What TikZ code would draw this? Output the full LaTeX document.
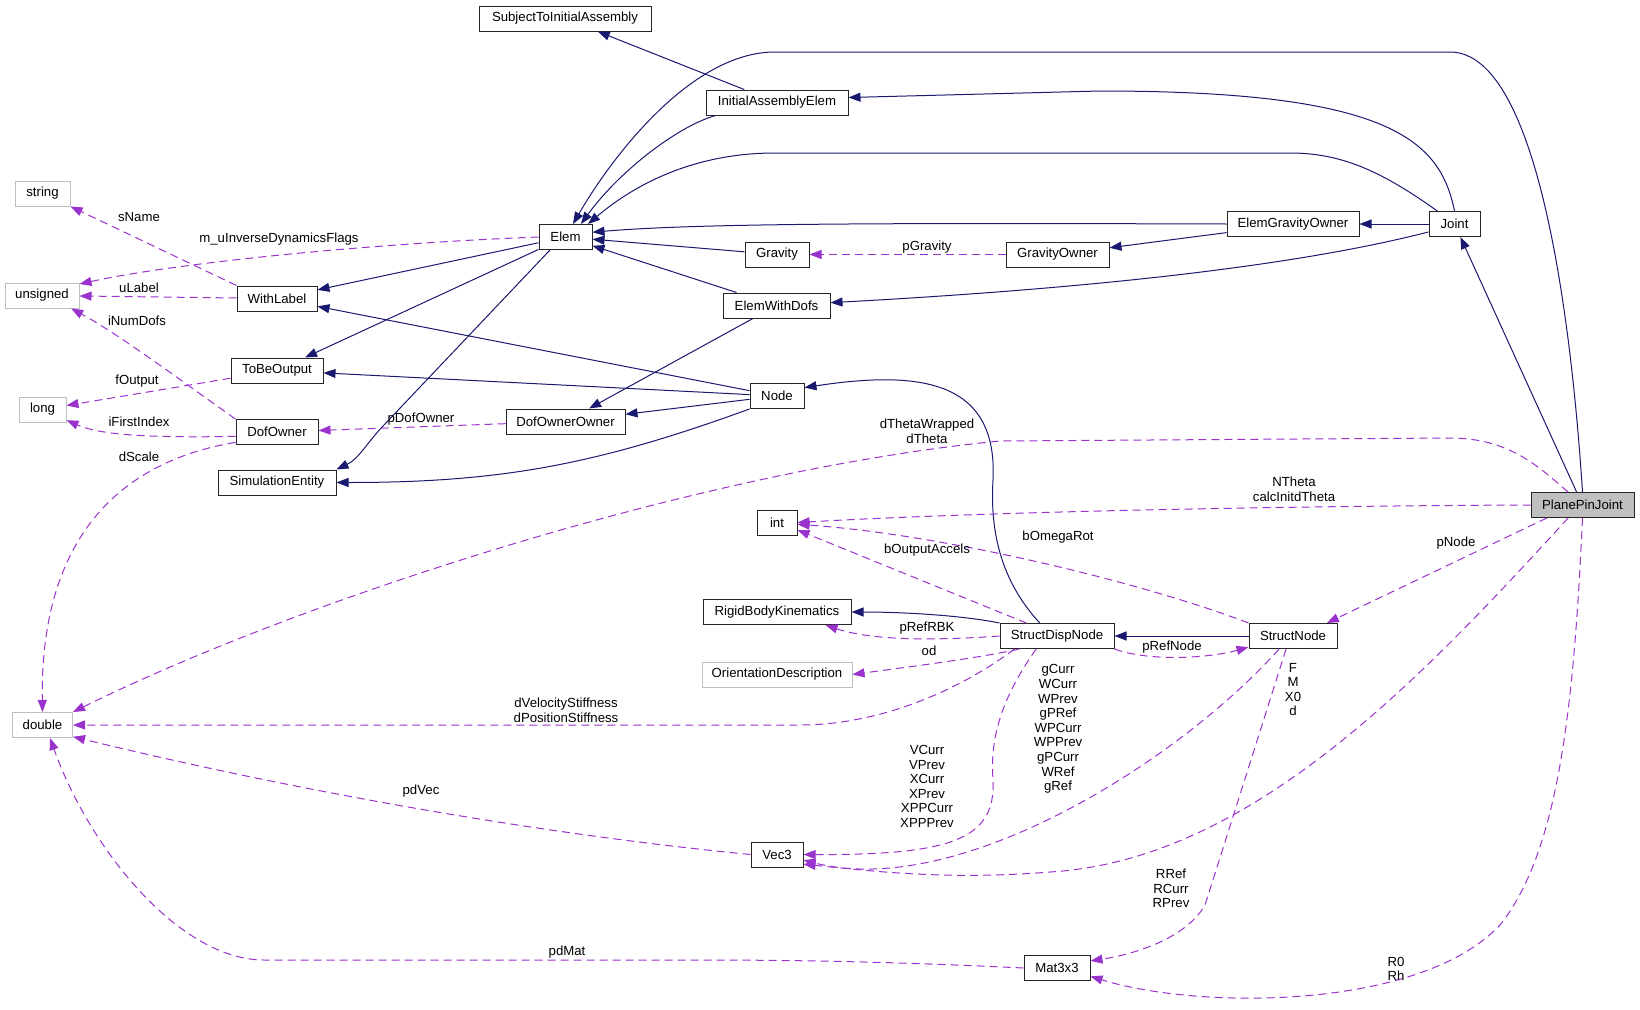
\documentclass[tikz,border=0pt]{standalone}
\usepackage{fontspec}
\setmainfont{Liberation Sans}
\usetikzlibrary{arrows.meta}
\definecolor{inhblue}{HTML}{191970}
\definecolor{useviolet}{HTML}{9A32CD}
\definecolor{extgrey}{HTML}{BFBFBF}
\newcommand{\dxfont}{\fontsize{13.2}{14.6}\selectfont}
\tikzset{
  cls/.style    = {draw=black!85, fill=white, line width=1pt, minimum height=25pt,
                   inner xsep=3pt, inner ysep=0pt, font=\dxfont},
  extcls/.style = {cls, draw=extgrey},
  curcls/.style = {cls, fill=extgrey},
  inh/.style    = {-{Triangle[length=12pt,width=9pt]}, draw=inhblue, line width=1pt},
  use/.style    = {-{Triangle[length=12pt,width=9pt]}, draw=useviolet, line width=1pt,
                   dash pattern=on 8pt off 5pt},
  lbl/.style    = {font=\dxfont, align=center, inner sep=0pt},
}

\begin{document}
\begin{tikzpicture}[x=1pt,y=-1pt]
  \fill[white] (0,0) rectangle (1640,1009);
  \useasboundingbox (0,0) rectangle (1640,1009);

  % classes
  \node[extcls,minimum width=55] (string) at (42.5,193.5) {string};
  \node[extcls,minimum width=74] (unsigned) at (42,295.5) {unsigned};
  \node[extcls,minimum width=47] (long) at (42.5,409.5) {long};
  \node[extcls,minimum width=60] (double) at (42.5,725) {double};
  \node[cls,minimum width=80] (withlabel) at (277,298.5) {WithLabel};
  \node[cls,minimum width=92] (tobeout) at (277,370.5) {ToBeOutput};
  \node[cls,minimum width=82] (dofown) at (277,432) {DofOwner};
  \node[cls,minimum width=118] (siment) at (277,482.5) {SimulationEntity};
  \node[cls,minimum width=172] (subj) at (565,18.5) {SubjectToInitialAssembly};
  \node[cls,minimum width=53] (elem) at (565.5,237) {Elem};
  \node[cls,minimum width=119] (dofownown) at (565.5,421.5) {DofOwnerOwner};
  \node[cls,minimum width=142] (iae) at (777,102.5) {InitialAssemblyElem};
  \node[cls,minimum width=64] (grav) at (777,254.5) {Gravity};
  \node[cls,minimum width=107] (ewd) at (776.5,305.5) {ElemWithDofs};
  \node[cls,minimum width=54] (nodecls) at (777,396) {Node};
  \node[cls,minimum width=40] (int) at (777,522.5) {int};
  \node[cls,minimum width=148] (rbk) at (777,612) {RigidBodyKinematics};
  \node[extcls,minimum width=150] (orient) at (777,674.5) {OrientationDescription};
  \node[cls,minimum width=52] (vec) at (777,854.5) {Vec3};
  \node[cls,minimum width=103] (gravown) at (1057.5,254.5) {GravityOwner};
  \node[cls,minimum width=114] (sdn) at (1057,636) {StructDispNode};
  \node[cls,minimum width=66] (mat) at (1057,968) {Mat3x3};
  \node[cls,minimum width=132] (egown) at (1293,224) {ElemGravityOwner};
  \node[cls,minimum width=88] (sn) at (1293,636) {StructNode};
  \node[cls,minimum width=51] (joint) at (1454.5,224) {Joint};
  \node[curcls,minimum width=103] (ppj) at (1582.5,505) {PlanePinJoint};

  % inheritance
  \draw[inh] (iae) -- (subj);
  \draw[inh] (iae.192) .. controls (680,125) and (620,170) .. (elem.40);
  \draw[inh] (ppj.north) .. controls (1572,330) and (1540,52) .. (1450,52) -- (775,52)
             .. controls (690,52) and (610,160) .. (elem.60);
  \draw[inh] (joint.north) .. controls (1440,140) and (1390,91) .. (1100,91) -- (iae.4);
  \draw[inh] (joint.143) .. controls (1380,170) and (1340,153) .. (1290,153) -- (775,153)
             .. controls (700,153) and (640,180) .. (elem.30);
  \draw[inh] (egown.west) .. controls (900,223) and (700,223) .. (elem.10);
  \draw[inh] (joint) -- (egown);
  \draw[inh] (egown) -- (gravown);
  \draw[inh] (joint.197) .. controls (1300,265) and (1100,288) .. (ewd.3);
  \draw[inh] (grav) -- (elem);
  \draw[inh] (ewd) -- (elem);
  \draw[inh] (ppj) -- (joint);
  \draw[inh] (elem) -- (withlabel);
  \draw[inh] (elem) -- (tobeout);
  \draw[inh] (elem.220) -- (384,425) to[out=226,in=26] (siment.north east);
  \draw[inh] (nodecls) -- (withlabel);
  \draw[inh] (nodecls) -- (tobeout);
  \draw[inh] (nodecls) -- (dofownown);
  \draw[inh] (ewd) -- (dofownown);
  \draw[inh] (nodecls.south west) to[out=200,in=0] (siment.east);
  \draw[inh] (sdn.143) .. controls (1000,580) and (990,530) .. (993,480)
             .. controls (998,380) and (920,370) .. (nodecls.17);
  \draw[inh] (sdn.north west) .. controls (960,615) and (900,612) .. (rbk.east);
  \draw[inh] (sn) -- (sdn);

  % usage
  \draw[use] (withlabel.north west) -- (string.south east);
  \draw[use] (elem.west) .. controls (380,243) and (180,262) .. (unsigned.17);
  \draw[use] (withlabel) -- (unsigned);
  \draw[use] (dofown.north west) .. controls (180,380) and (120,335) .. (unsigned.-24);
  \draw[use] (tobeout) -- (long);
  \draw[use] (dofown.186) .. controls (150,438) and (100,435) .. (long.-24);
  \draw[use] (dofown.194) .. controls (100,465) and (40,560) .. (double.north);
  \draw[use] (dofownown) -- (dofown);
  \draw[use] (gravown) -- (grav);
  \draw[use] (ppj.138) .. controls (1540,468) and (1510,438) .. (1450,438) -- (1000,441)
             .. controls (700,470) and (300,600) .. (double.north east);
  \draw[use] (ppj.west) .. controls (1300,506) and (1000,511) .. (int.east);
  \draw[use] (sn.north west) .. controls (1150,585) and (950,535) .. (int.-5);
  \draw[use] (sdn.157) -- (int.-20);
  \draw[use] (ppj.200) -- (sn.21);
  \draw[use] (sdn.west) .. controls (930,641) and (870,640) .. (rbk.-15);
  \draw[use] (sdn.199) .. controls (980,658) and (900,668) .. (orient.east);
  \draw[use] (sdn.south east) .. controls (1150,662) and (1210,658) .. (sn.194);
  \draw[use] (sdn.197) .. controls (960,690) and (880,725) .. (800,725) -- (double.east);
  \draw[use] (vec.west) .. controls (500,830) and (250,780) .. (double.-21);
  \draw[use] (sdn.212) .. controls (1000,700) and (990,740) .. (993,780)
             .. controls (996,840) and (950,855) .. (vec.east);
  \draw[use] (sn.223) .. controls (1180,760) and (960,900) .. (vec.-12);
  \draw[use] (ppj.222) .. controls (1420,680) and (1250,860) .. (1050,872)
             .. controls (950,880) and (880,872) .. (vec.-20);
  \draw[use] (sn.242) -- (1205,905) .. controls (1185,940) and (1130,955) .. (mat.12);
  \draw[use] (ppj.south) .. controls (1574,700) and (1560,850) .. (1500,925)
             .. controls (1420,1010) and (1200,1010) .. (mat.-14);
  \draw[use] (mat.west) .. controls (900,962) and (800,960) .. (700,960) -- (264,960)
             .. controls (180,960) and (90,850) .. (double.-60);

  % member labels
  \node[lbl] (l_sname) at (139,217) {sName};
  \node[lbl] (l_flags) at (279,239) {m\_uInverseDynamicsFlags};
  \node[lbl] (l_ulabel) at (139,288) {uLabel};
  \node[lbl] (l_numdofs) at (137,321) {iNumDofs};
  \node[lbl] (l_foutput) at (137,381) {fOutput};
  \node[lbl] (l_firstidx) at (139,422) {iFirstIndex};
  \node[lbl] (l_dscale) at (139,457) {dScale};
  \node[lbl] (l_pdofown) at (421,419) {pDofOwner};
  \node[lbl] (l_pgrav) at (927,247) {pGravity};
  \node[lbl] (l_dtheta) at (927,431) {dThetaWrapped\\dTheta};
  \node[lbl] (l_ntheta) at (1294,489) {NTheta\\calcInitdTheta};
  \node[lbl] (l_bomega) at (1058,537) {bOmegaRot};
  \node[lbl] (l_bout) at (927,550) {bOutputAccels};
  \node[lbl] (l_pnode) at (1456,543) {pNode};
  \node[lbl] (l_prefrbk) at (927,628) {pRefRBK};
  \node[lbl] (l_od) at (929,651) {od};
  \node[lbl] (l_prefnode) at (1172,647) {pRefNode};
  \node[lbl] (l_stiff) at (566,710) {dVelocityStiffness\\dPositionStiffness};
  \node[lbl] (l_pdvec) at (421,791) {pdVec};
  \node[lbl] (l_vcurr) at (927,786.5) {VCurr\\VPrev\\XCurr\\XPrev\\XPPCurr\\XPPPrev};
  \node[lbl] (l_gcurr) at (1058,729) {gCurr\\WCurr\\WPrev\\gPRef\\WPCurr\\WPPrev\\gPCurr\\WRef\\gRef};
  \node[lbl] (l_fmx) at (1293,689.5) {F\\M\\X0\\d};
  \node[lbl] (l_rref) at (1171,888.5) {RRef\\RCurr\\RPrev};
  \node[lbl] (l_r0) at (1396,969) {R0\\Rh};
  \node[lbl] (l_pdmat) at (567,952) {pdMat};
\end{tikzpicture}
\end{document}
